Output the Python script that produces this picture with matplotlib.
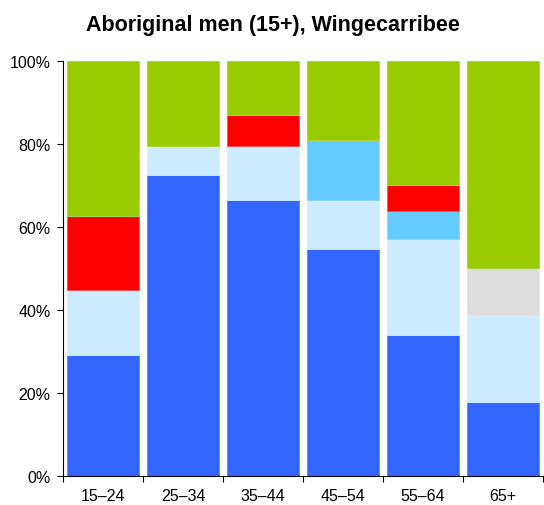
import matplotlib
matplotlib.use('Agg')
import matplotlib.pyplot as plt
import numpy as np

plt.rcParams['font.family'] = ['Liberation Sans', 'DejaVu Sans']

# age groups and share (%) of each segment, bottom to top
ages = ['15–24', '25–34', '35–44', '45–54', '55–64', '65+']
blue = [29.2, 72.6, 66.6, 54.7, 34.0, 17.8]
light_blue = [15.6, 6.8, 12.8, 11.9, 23.2, 21.2]
sky_blue = [0, 0, 0, 14.3, 6.7, 0]
red = [17.9, 0, 7.7, 0, 6.3, 0]
grey = [0, 0, 0, 0, 0, 11.1]
green = [37.3, 20.6, 12.9, 19.1, 29.8, 49.9]

series = [blue, light_blue, sky_blue, red, grey, green]
colours = ['#3366FF', '#CCEBFF', '#66CCFF', '#FF0000', '#DDDDDD', '#99CC00']
edges = ['#5C85FF', '#D6EFFF', '#85D6FF', '#FF4D4D', '#E3E3E3', '#A8D633']

fig = plt.figure(figsize=(5.44, 5.06), dpi=100)
ax = fig.add_axes([63/544, 1-477/506, 480/544, 415/506])

x = np.arange(len(ages))
bottom = np.zeros(len(ages))
for vals, c, ec in zip(series, colours, edges):
    vals = np.array(vals)
    ax.bar(x, vals, width=0.9, bottom=bottom, color=c, edgecolor=ec, linewidth=0.6)
    bottom += vals

ax.set_xlim(-0.5, len(ages) - 0.5)
ax.set_ylim(0, 100)
ax.set_yticks([0, 20, 40, 60, 80, 100])
ax.set_yticklabels(['0%', '20%', '40%', '60%', '80%', '100%'])
ax.set_xticks(np.arange(len(ages) + 1) - 0.5)
ax.set_xticklabels([])
ax.set_xticks(x, minor=True)
ax.set_xticklabels(ages, minor=True)
ax.tick_params(axis='x', which='minor', length=0, pad=9, labelsize=11.5)
ax.tick_params(axis='x', which='major', length=4, width=0.8)
ax.tick_params(axis='y', length=4, width=0.8, pad=5, labelsize=11.5)
for s in ['top', 'right']:
    ax.spines[s].set_visible(False)

fig.text(273/544, 1-25/506, 'Aboriginal men (15+), Wingecarribee', ha='center', va='center',
         fontsize=15.5, fontweight='bold')

fig.savefig('out.png', dpi=100)
